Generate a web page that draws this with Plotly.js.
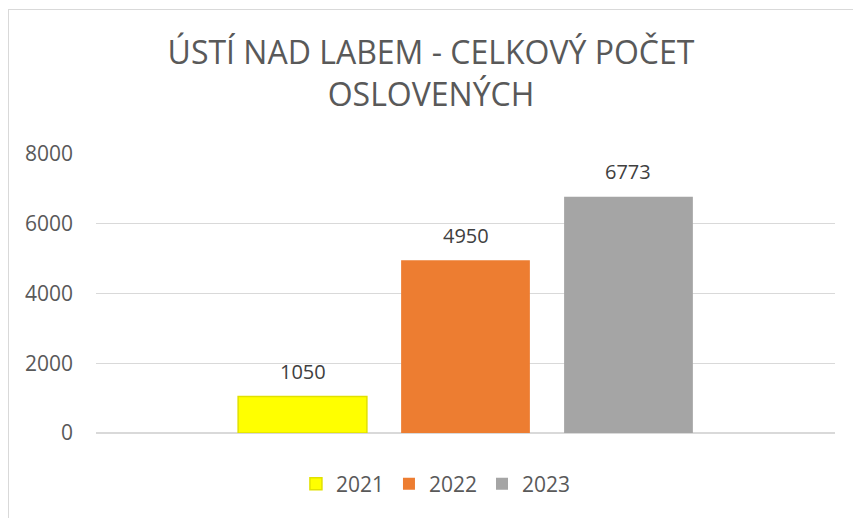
<!DOCTYPE html>
<html>
<head>
<meta charset="utf-8">
<script src="https://cdn.plot.ly/plotly-3.0.1.min.js"></script>
<style>
  html, body { margin: 0; padding: 0; background: #fff; }
  #wrap { position: relative; width: 853px; height: 518px; }
  #chart { position: absolute; left: 0; top: 0; width: 853px; height: 518px; }
  #frame { position: absolute; left: 8px; top: 9px; width: 845px; height: 509px;
           border-left: 1px solid #d9d9d9; border-top: 1px solid #d9d9d9; pointer-events: none; }
</style>
</head>
<body>
<div id="wrap">
  <div id="chart"></div>
  <div id="frame"></div>
</div>
<script>
// ---- data ----
const years = ['2021', '2022', '2023'];
const values = [1050, 4950, 6773];
const colors = ['#FFFF00', '#ED7D31', '#A5A5A5'];
const borderColors = ['#E1E100', '#ED7D31', '#A5A5A5'];
const titleText = 'ÚSTÍ NAD LABEM - CELKOVÝ POČET<br>OSLOVENÝCH';
const yTicks = [0, 2000, 4000, 6000, 8000];

const FONT = '"Open Sans", "Liberation Sans", sans-serif';

const traces = years.map((yr, i) => ({
  type: 'bar',
  name: yr,
  x: [yr],
  y: [values[i]],
  marker: {
    color: colors[i],
    line: { color: borderColors[i], width: i === 0 ? 1.5 : 0 }
  },
  width: 0.79,
  hoverinfo: 'x+y'
}));

// category axis: annotation x given as category index of each year
const annotations = years.map((yr, i) => ({
  x: years.indexOf(yr),
  y: values[i],
  xref: 'x',
  yref: 'y',
  text: String(values[i]),
  showarrow: false,
  yanchor: 'middle',
  yshift: 25,
  font: { family: FONT, size: 20, color: '#404040' }
}));

const layout = {
  width: 853,
  height: 518,
  paper_bgcolor: '#ffffff',
  plot_bgcolor: '#ffffff',
  margin: { l: 96, r: 18, t: 154, b: 85 },
  barmode: 'overlay',
  title: {
    text: titleText,
    x: 431 / 853,
    xref: 'container',
    xanchor: 'center',
    y: 0.8755,
    yref: 'container',
    yanchor: 'middle',
    font: { family: FONT, size: 32, color: '#595959' }
  },
  xaxis: {
    type: 'category',
    categoryorder: 'array',
    categoryarray: years,
    range: [-1.267, 3.267],
    showticklabels: false,
    showgrid: false,
    zeroline: false,
    showline: false,
    fixedrange: true
  },
  yaxis: {
    range: [0, 8000],
    tickvals: yTicks,
    ticktext: yTicks.map(String),
    showgrid: true,
    gridcolor: '#d9d9d9',
    gridwidth: 1.3,
    zeroline: true,
    zerolinecolor: '#d9d9d9',
    zerolinewidth: 1.3,
    showline: false,
    ticks: '',
    ticklabelstandoff: 22,
    tickfont: { family: FONT, size: 21, color: '#595959' },
    fixedrange: true
  },
  showlegend: true,
  legend: {
    orientation: 'h',
    x: 0.46,
    xanchor: 'center',
    y: -0.183,
    yanchor: 'middle',
    font: { family: FONT, size: 21, color: '#595959' },
    itemwidth: 30,
    traceorder: 'normal'
  },
  annotations: annotations
};

Plotly.newPlot('chart', traces, layout, { displayModeBar: false, staticPlot: true });
</script>
</body>
</html>
